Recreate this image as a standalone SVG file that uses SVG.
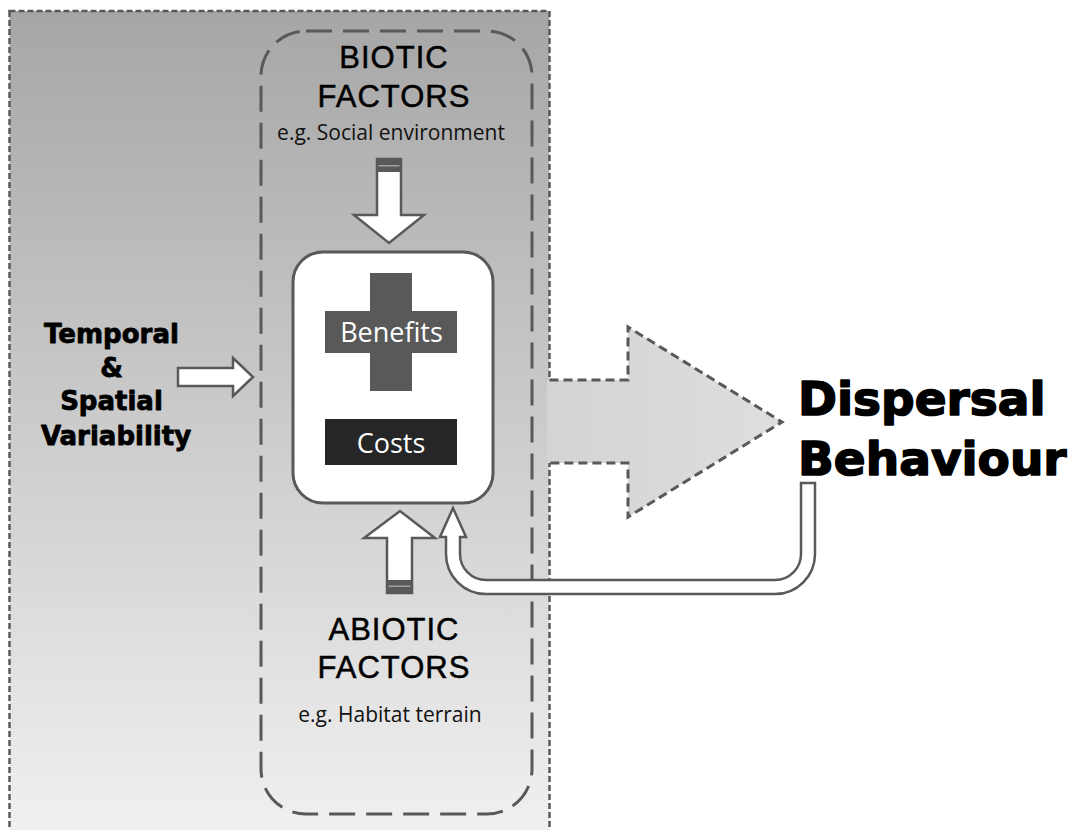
<svg xmlns="http://www.w3.org/2000/svg" width="1072" height="830" viewBox="0 0 1072 830">
  <defs>
    <linearGradient id="bgGrad" x1="0" y1="0" x2="0" y2="1">
      <stop offset="0" stop-color="#a6a6a6"/>
      <stop offset="1" stop-color="#f2f2f2"/>
    </linearGradient>
    <linearGradient id="bigGrad" x1="0" y1="0" x2="1" y2="0">
      <stop offset="0" stop-color="#d4d4d4"/>
      <stop offset="1" stop-color="#dedede"/>
    </linearGradient>
  </defs>
  <style>
    .arrow { fill: #ffffff; stroke: #595959; stroke-width: 2.5; stroke-linejoin: miter; }
    .band { fill: #595959; }
    .bandline { fill: #a0a0a0; }
    .head { font-family: "Liberation Sans", Arial, sans-serif; font-size: 31px; letter-spacing: 1px; fill: #000; stroke: #000; stroke-width: 0.5px; text-anchor: middle; }
    .eg { font-family: "Open Sans", "Noto Sans", sans-serif; font-size: 21px; fill: #111; text-anchor: middle; }
    .lbl { font-family: "Open Sans", "Noto Sans", sans-serif; font-size: 27px; fill: #ffffff; text-anchor: middle; }
    .heavy { font-family: "DejaVu Sans", "Liberation Sans", sans-serif; font-weight: bold; fill: #000; stroke: #000; stroke-linejoin: round; }
  </style>

  <g id="environment">
    <rect x="9.5" y="11" width="540" height="840" fill="url(#bgGrad)" stroke="#595959" stroke-width="2.5" stroke-dasharray="6 3"/>
  </g>

  <g id="factors">
    <rect x="261" y="31" width="271" height="783" rx="45" ry="45" fill="none" stroke="#595959" stroke-width="3" stroke-dasharray="26 11"/>
    <text class="head" x="394" y="68">BIOTIC</text>
    <text class="head" x="394" y="107">FACTORS</text>
    <text class="eg" x="391" y="140">e.g. Social environment</text>
    <text class="head" x="394" y="640">ABIOTIC</text>
    <text class="head" x="394" y="678">FACTORS</text>
    <text class="eg" x="390" y="722">e.g. Habitat terrain</text>
  </g>

  <g id="connectors">
    <path d="M547,380 L628,380 L628,327 L782,422 L628,517 L628,463 L547,463 Z" fill="url(#bigGrad)" stroke="none"/>
    <path d="M549.5,380 L628,380 L628,327 L782,422 L628,517 L628,463 L549.5,463" fill="none" stroke="#595959" stroke-width="3" stroke-dasharray="9 5"/>
    <path class="arrow" d="M178,368 L233,368 L233,358 L253,377 L233,396 L233,386 L178,386 Z"/>
    <path class="arrow" d="M377,159 L401,159 L401,215 L424,215 L389,243 L354,215 L377,215 Z"/>
    <rect class="band" x="377" y="159" width="24" height="13"/>
    <rect class="bandline" x="378.5" y="165" width="21" height="1.5"/>
    <path class="arrow" d="M387,593 L412,593 L412,538 L435,538 L400,511 L364,538 L387,538 Z"/>
    <rect class="band" x="387" y="580" width="25" height="13"/>
    <rect class="bandline" x="388.5" y="585.5" width="22" height="1.5"/>
    <path class="arrow" d="M801,483 L815,483 L815,554 A40,40 0 0 1 775,594 L486,594 A40,40 0 0 1 446,554 L446,537 L440,537 L453,508 L466,537 L460,537 L460,554 A26,26 0 0 0 486,580 L775,580 A26,26 0 0 0 801,554 Z"/>
  </g>

  <g id="costs-benefits">
    <rect x="293" y="252" width="200" height="251" rx="30" ry="30" fill="#ffffff" stroke="#595959" stroke-width="3"/>
    <rect x="370" y="273" width="42" height="118" fill="#595959"/>
    <rect x="325" y="311" width="132" height="42" fill="#595959"/>
    <text class="lbl" x="391.5" y="342">Benefits</text>
    <rect x="325" y="419" width="132" height="46" fill="#262626"/>
    <text class="lbl" x="391" y="453">Costs</text>
  </g>

  <g id="variability">
    <text class="heavy" font-size="26" stroke-width="0.8" text-anchor="middle">
      <tspan x="116" y="343">Temporal</tspan>
      <tspan x="116" y="377">&amp;</tspan>
      <tspan x="116" y="410">Spatial</tspan>
      <tspan x="116" y="445">Variability</tspan>
    </text>
  </g>

  <g id="dispersal">
    <text class="heavy" font-size="47" stroke-width="1.6">
      <tspan x="798" y="415">Dispersal</tspan>
      <tspan x="798" y="475">Behaviour</tspan>
    </text>
  </g>
</svg>
